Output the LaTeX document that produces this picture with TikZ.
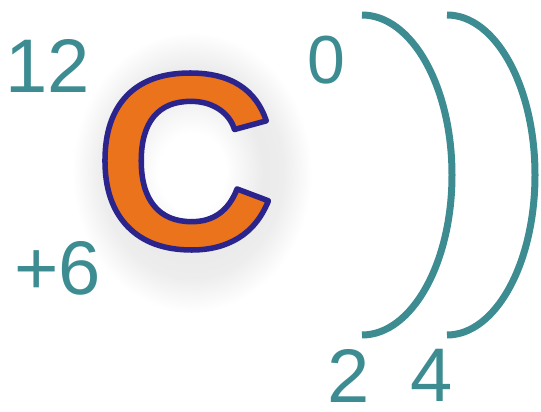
\documentclass[tikz,border=0pt]{standalone}
\usepackage{fontspec}
\setmainfont{Liberation Sans}
\definecolor{tealnum}{RGB}{60,140,146}
\definecolor{corange}{RGB}{234,115,28}
\pgfdeclareradialshading{glow}{\pgfpoint{0bp}{0bp}}{color(0bp)=(white); color(7bp)=(white); color(15bp)=(black!8); color(19bp)=(black!7); color(25bp)=(white); color(50bp)=(white)}
% outlined letter: orange fill, navy stroke
\newcommand{\outlined}[1]{{\color{corange}\special{pdf:literal direct 2 Tr 5.5 w 1 j 0.165 0.141 0.549 RG}#1\special{pdf:literal direct 0 Tr}}}

\begin{document}
\begin{tikzpicture}[x=1pt,y=-1pt,
 num/.style={text=tealnum,inner sep=0pt,font=\fontsize{76}{80}\selectfont},
 shell/.style={draw=tealnum,line width=7pt}]
\useasboundingbox (0,0) rectangle (541,412);
% soft glow behind the symbol
\shade[shading=glow] (192,172) ellipse[x radius=120,y radius=140];
\node[inner sep=0pt,font=\fontsize{250}{250}\selectfont\bfseries] (sym) at (185,161.5) {\outlined{C}};
\node[num] (mass) at (48,65.5) {12};
\node[num] (charge) at (57.5,268) {+6};
\node[num,font=\fontsize{68}{70}\selectfont] (ox) at (326,60) {0};
% electron shells
\draw[shell] (362,15) arc[start angle=-90,end angle=90,x radius=90,y radius=160];
\draw[shell] (447,15) arc[start angle=-90,end angle=90,x radius=88,y radius=160];
\node[num] (e1) at (349,375.5) {2};
\node[num] (e2) at (431.5,375.5) {4};
\end{tikzpicture}
\end{document}
